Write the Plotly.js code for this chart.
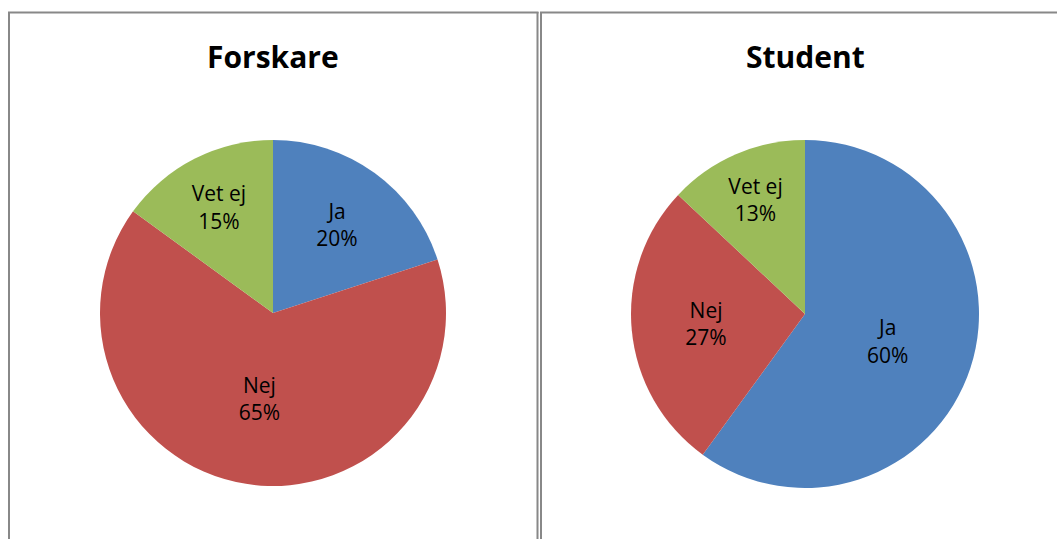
<!DOCTYPE html>
<html>
<head>
<meta charset="utf-8">
<script src="https://cdn.plot.ly/plotly-3.0.1.min.js"></script>
<style>html,body{margin:0;padding:0;background:#fff;}#chart{width:1057px;height:539px;}</style>
</head>
<body>
<div id="chart"></div>
<script>
const categories = ["Ja", "Nej", "Vet ej"];
const forskareValues = [20, 65, 15];
const studentValues = [60, 27, 13];
const panelTitles = ["Forskare", "Student"];
const colors = ["#4F81BD", "#C0504D", "#9BBB59"];

const W = 1057, H = 539;
const px = x => x / W;
const py = y => 1 - y / H;

function pieTrace(values, cx, cy, r) {
  return {
    type: "pie",
    labels: categories,
    values: values,
    sort: false,
    direction: "clockwise",
    rotation: 0,
    marker: {colors: colors, line: {width: 0}},
    texttemplate: "%{label}<br>%{percent:.0%}",
    textposition: "inside",
    insidetextorientation: "horizontal",
    textfont: {family: "Open Sans, sans-serif", size: 21, color: "#000"},
    hoverinfo: "none",
    showlegend: false,
    domain: {x: [px(cx - r), px(cx + r)], y: [py(cy + r), py(cy - r)]}
  };
}

const data = [
  pieTrace(forskareValues, 273, 313, 173),
  pieTrace(studentValues, 805, 314, 174)
];

const gray = {color: "#888888", width: 2};
const titleFont = {family: "Open Sans, sans-serif", size: 30, color: "#000"};
const layout = {
  width: W, height: H,
  margin: {l: 0, r: 0, t: 0, b: 0},
  paper_bgcolor: "#fff",
  uniformtext: {minsize: 21, mode: "show"},
  annotations: [
    {text: "<b>" + panelTitles[0] + "</b>", x: px(273), y: py(56), xref: "paper", yref: "paper", showarrow: false, xanchor: "center", yanchor: "middle", font: titleFont},
    {text: "<b>" + panelTitles[1] + "</b>", x: px(805), y: py(56), xref: "paper", yref: "paper", showarrow: false, xanchor: "center", yanchor: "middle", font: titleFont}
  ],
  shapes: [
    {type: "line", xref: "paper", yref: "paper", x0: px(9), x1: px(9), y0: py(12), y1: py(545), line: gray},
    {type: "line", xref: "paper", yref: "paper", x0: px(8), x1: px(538.5), y0: py(12.5), y1: py(12.5), line: gray},
    {type: "line", xref: "paper", yref: "paper", x0: px(537.5), x1: px(537.5), y0: py(12), y1: py(545), line: gray},
    {type: "line", xref: "paper", yref: "paper", x0: px(541), x1: px(541), y0: py(12), y1: py(545), line: gray},
    {type: "line", xref: "paper", yref: "paper", x0: px(540), x1: px(1057), y0: py(12.5), y1: py(12.5), line: gray}
  ]
};

Plotly.newPlot("chart", data, layout, {staticPlot: true, displayModeBar: false});
</script>
</body>
</html>
